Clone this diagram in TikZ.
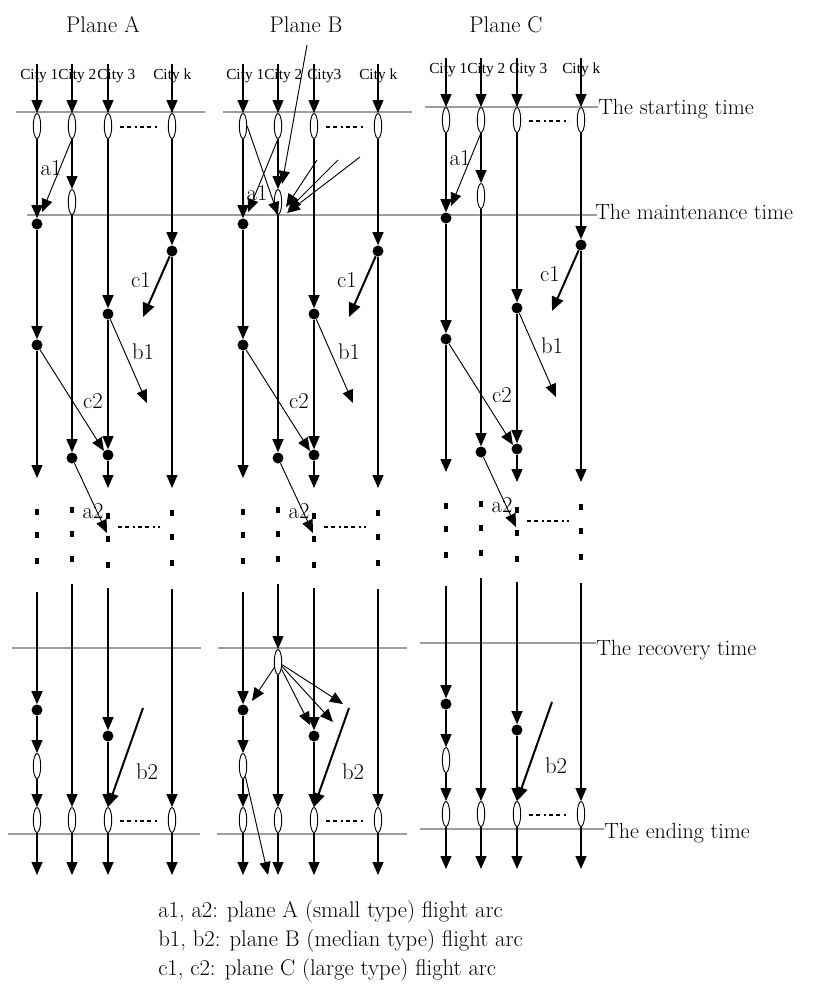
\documentclass[tikz,border=0pt]{standalone}
\usepackage{fontspec}
\newfontfamily\cityfont{Liberation Serif}
\usetikzlibrary{arrows.meta,shapes.geometric}

\tikzset{
  arr/.style={-{Triangle[length=9.75pt,width=8.25pt]}, line width=0.9pt},
  arcline/.style={-{Triangle[length=9.75pt,width=8.25pt]}, line width=0.7pt},
  thickarc/.style={-{Triangle[length=10.5pt,width=9pt]}, line width=1.5pt},
  ell/.style={ellipse, draw, line width=0.7pt, fill=white, minimum width=5.6pt,
    minimum height=18.75pt, inner sep=0pt},
  dot/.style={circle, fill=black, minimum size=8.25pt, inner sep=0pt},
  sq/.style={rectangle, fill=black, minimum width=2.7pt, minimum height=4.5pt, inner sep=0pt},
  timeline/.style={draw=black!38, line width=1.1pt},
  dashdot/.style={line width=1.5pt, dash pattern=on 3pt off 2.6pt on 3pt off 2.6pt on 1.2pt off 2.6pt},
  lab/.style={font=\fontsize{17}{20}\selectfont, inner sep=0pt},
  side/.style={font=\fontsize{16.5}{20}\selectfont, inner sep=0pt},
  city/.style={font=\cityfont\fontsize{11.5}{13}\selectfont, inner sep=0pt},
}

% #1 prefix, #2/#3 shift, #4 text and #5 position of the third city label, #6 height of a1
\newcommand\drawplane[6]{%
\begin{scope}[shift={(#2,#3)}]
  % city labels and incoming flights
  \node[city,anchor=base west] (#1L1) at (20,79) {City 1};
  \node[city,anchor=base west] (#1L2) at (58,79) {City 2};
  \node[city,anchor=base west] (#1L3) at (#5,79) {#4};
  \node[city,anchor=base west] (#1Lk) at (153,79) {City k};
  \coordinate (#1t1) at (37,64);
  \coordinate (#1t2) at (72,64);
  \coordinate (#1t3) at (108,64);
  \coordinate (#1tk) at (172,64);
  % start nodes
  \node[ell] (#1s1) at (37,126) {};
  \node[ell] (#1s2) at (72,126) {};
  \node[ell] (#1s3) at (108,126) {};
  \node[ell] (#1sk) at (172,126) {};
  \draw[arr] (#1t1) -- (#1s1.north);
  \draw[arr] (#1t2) -- (#1s2.north);
  \draw[arr] (#1t3) -- (#1s3.north);
  \draw[arr] (#1tk) -- (#1sk.north);
  \draw[dashdot] (120,127) -- (160,127);
  % upper events
  \node[ell] (#1m2) at (72,202) {};
  \node[dot] (#1d1) at (37,224) {};
  \node[dot] (#1dk) at (172,251) {};
  \node[dot] (#1d3) at (108,314) {};
  \node[dot] (#1d1b) at (37,345) {};
  \node[dot] (#1d3b) at (108,455) {};
  \node[dot] (#1d2) at (72,458) {};
  \coordinate (#1e1) at (37,478);
  \coordinate (#1e3) at (108,488);
  \coordinate (#1ek) at (172,488);
  \draw[arr] (#1s1) -- (#1d1);
  \draw[arr] (#1d1) -- (#1d1b);
  \draw[arr] (#1d1b) -- (#1e1);
  \draw[arr] (#1s2) -- (#1m2);
  \draw[arr] (#1m2) -- (#1d2);
  \draw[arr] (#1s3) -- (#1d3);
  \draw[arr] (#1d3) -- (#1d3b);
  \draw[arr] (#1d3b) -- (#1e3);
  \draw[arr] (#1sk) -- (#1dk);
  \draw[arr] (#1dk) -- (#1ek);
  % flight arcs
  \coordinate (#1a1e) at (42,212);
  \draw[arcline] (#1s2.south) -- (#1a1e);
  \coordinate (#1c1e) at (143,317);
  \draw[thickarc] (#1dk) -- (#1c1e);
  \coordinate (#1b1e) at (147,403);
  \draw[arcline] (#1d3) -- (#1b1e);
  \draw[arcline] (#1d1b) -- (#1d3b.north west);
  \coordinate (#1a2e) at (107,533);
  \draw[arcline] (#1d2) -- (#1a2e);
  % omitted stretch of time
  \foreach \y in {512,535,561} \node[sq] (#1qa\y) at (37,\y) {};
  \foreach \y in {510,534,559} \node[sq] (#1qb\y) at (72,\y) {};
  \foreach \y in {516,539,565} \node[sq] (#1qc\y) at (108,\y) {};
  \foreach \y in {513,537,563} \node[sq] (#1qd\y) at (172,\y) {};
  \draw[dashdot] (118,527) -- (160,527);
  % lower events
  \coordinate (#1u1) at (37,592);
  \coordinate (#1u2) at (72,584);
  \coordinate (#1u3) at (108,588);
  \coordinate (#1uk) at (172,589);
  \node[dot] (#1d1c) at (37,710) {};
  \node[ell] (#1l1) at (37,766) {};
  \node[dot] (#1d3c) at (108,736) {};
  \node[ell] (#1f1) at (37,820) {};
  \node[ell] (#1f2) at (72,820) {};
  \node[ell] (#1f3) at (108,820) {};
  \node[ell] (#1fk) at (172,820) {};
  \coordinate (#1g1) at (37,875);
  \coordinate (#1g2) at (72,875);
  \coordinate (#1g3) at (108,875);
  \coordinate (#1gk) at (172,875);
  \draw[arr] (#1u1) -- (#1d1c);
  \draw[arr] (#1d1c) -- (#1l1);
  \draw[arr] (#1l1) -- (#1f1);
  \draw[arr] (#1f1) -- (#1g1);
  \draw[arr] (#1u3) -- (#1d3c);
  \draw[arr] (#1d3c) -- (#1f3);
  \draw[arr] (#1f3) -- (#1g3);
  \draw[arr] (#1uk) -- (#1fk);
  \draw[arr] (#1fk) -- (#1gk);
  \draw[arr] (#1f2) -- (#1g2);
  \coordinate (#1b2s) at (143,708);
  \draw[thickarc] (#1b2s) -- (#1f3.north);
  \draw[dashdot] (120,821) -- (158,821);
  % arc labels
  \node[lab] (#1xa1) at (51,#6) {a1};
  \node[lab] (#1xc1) at (141,280) {c1};
  \node[lab] (#1xb1) at (143,352) {b1};
  \node[lab] (#1xc2) at (93,401) {c2};
  \node[lab] (#1xa2) at (93,511) {a2};
  \node[lab] (#1xb2) at (147,772) {b2};
\end{scope}}

\begin{document}
\begin{tikzpicture}[x=0.75pt,y=-0.75pt]
  \useasboundingbox (0,0) rectangle (824,990);

  % time lines
  \draw[timeline] (16,112) -- (205,112);
  \draw[timeline] (223,112) -- (412,112);
  \draw[timeline] (425,107) -- (598,107);
  \draw[timeline] (27,215) -- (597,215);
  \draw[timeline] (12,648) -- (201,648);
  \draw[timeline] (218,648) -- (407,648);
  \draw[timeline] (420,643) -- (596,643);
  \draw[timeline] (8,834) -- (200,834);
  \draw[timeline] (217,834) -- (407,834);
  \draw[timeline] (420,829) -- (604,829);

  % titles
  \node[lab,anchor=base] (tA) at (103,32) {Plane A};
  \node[lab,anchor=base] (tB) at (306,32) {Plane B};
  \node[lab,anchor=base] (tC) at (506,32) {Plane C};

  \drawplane{A}{0}{0}{City 3}{97}{168}
  \drawplane{B}{206}{0}{City3}{101}{193}
  \drawplane{C}{409}{-6}{City 3}{100}{164}

  % city 2 after the recovery time
  \draw[arr] (Au2) -- (Af2);
  \draw[arr] (Cu2) -- (Cf2);

  % plane B: extra flights near the maintenance time
  \coordinate (Bfar) at (307,45);
  \coordinate (Bx0) at (282,184);
  \draw[arcline] (Bfar) -- (Bx0);
  \draw[arcline] (Bs1.east) -- (Bm2.south);
  \coordinate (Bp1) at (317,160);
  \coordinate (Bp2) at (338,160);
  \coordinate (Bp3) at (360,157);
  \coordinate (Bq1) at (286,207);
  \coordinate (Bq2) at (288,210);
  \coordinate (Bq3) at (287,213);
  \draw[arcline] (Bp1) -- (Bq1);
  \draw[arcline] (Bp2) -- (Bq2);
  \draw[arcline] (Bp3) -- (Bq3);

  % plane B: recovery node and its flights
  \node[ell] (Br2) at (278,662) {};
  \draw[arr] (Bu2) -- (Br2);
  \draw[arr] (Br2) -- (Bf2);
  \coordinate (Bh0) at (252,701);
  \coordinate (Bh1) at (343,704);
  \coordinate (Bh2) at (333,722);
  \coordinate (Bh3) at (310,725);
  \coordinate (Bh4) at (268,875);
  \draw[arcline] (Br2) -- (Bh0);
  \draw[arcline] (Br2) -- (Bh1);
  \draw[arcline] (Br2) -- (Bh2);
  \draw[arcline] (Br2) -- (Bh3);
  \draw[arcline] (Bl1) -- (Bh4);

  % time labels
  \node[side,anchor=base west] (ls) at (598,114) {The starting time};
  \node[side,anchor=base west] (lm) at (595,219) {The maintenance time};
  \node[side,anchor=base west] (lr) at (596,655) {The recovery time};
  \node[side,anchor=base west] (le) at (604,838) {The ending time};

  % legend
  \node[lab,anchor=base west] (k1) at (158,917) {a1, a2: plane A (small type) flight arc};
  \node[lab,anchor=base west] (k2) at (158,946) {b1, b2: plane B (median type) flight arc};
  \node[lab,anchor=base west] (k3) at (158,975) {c1, c2: plane C (large type) flight arc};
\end{tikzpicture}
\end{document}
